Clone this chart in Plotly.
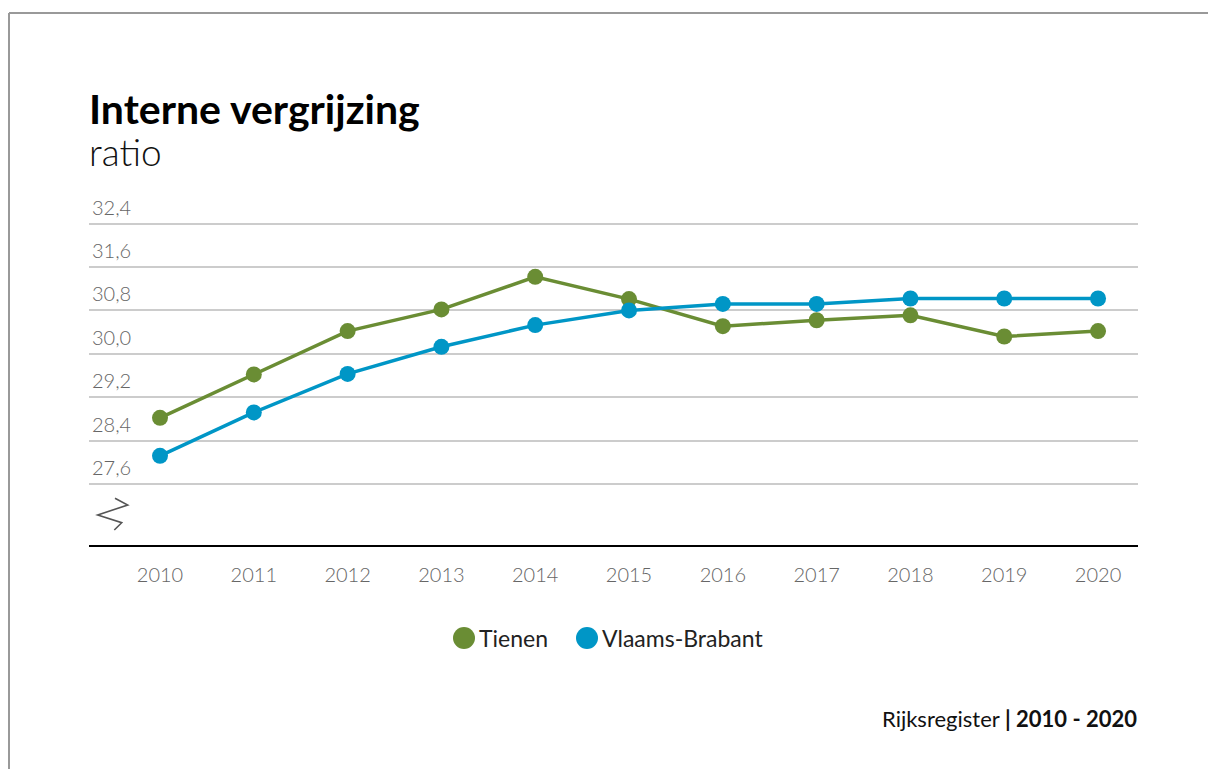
import plotly.graph_objects as go

years = [2010, 2011, 2012, 2013, 2014, 2015, 2016, 2017, 2018, 2019, 2020]
tienen = [28.82, 29.62, 30.42, 30.82, 31.42, 31.01, 30.51, 30.62, 30.71, 30.32, 30.42]
vlaams_brabant = [28.12, 28.92, 29.63, 30.13, 30.53, 30.80, 30.92, 30.92, 31.02, 31.02, 31.02]
series_names = ["Tienen", "Vlaams-Brabant"]
y_ticks = [27.6, 28.4, 29.2, 30.0, 30.8, 31.6, 32.4]
y_tick_labels = ["27,6", "28,4", "29,2", "30,0", "30,8", "31,6", "32,4"]
title_text = "Interne vergrijzing"
subtitle_text = "ratio"

GREEN = "#6a8d34"
BLUE = "#0096c6"
FONT = "Lato"

W, H = 1208, 769
ML, MR, MT, MB = 89, 70, 190, 224
PW, PH = W - ML - MR, H - MT - MB
# vertical scale: 27.6 sits at pixel 484, 54.23 px per unit
Y_REF, Y_REF_PX, PPU = 27.6, 484.0, 54.23
y_range = [Y_REF - (H - MB - Y_REF_PX) / PPU, Y_REF + (Y_REF_PX - MT) / PPU]


def px(x):
    return (x - ML) / PW


def py(y):
    return 1 - (y - MT) / PH


fig = go.Figure()
for name, vals, col in [(series_names[0], tienen, GREEN), (series_names[1], vlaams_brabant, BLUE)]:
    fig.add_trace(go.Scatter(
        x=years, y=vals, name=name, mode="lines+markers",
        line=dict(color=col, width=3.5),
        marker=dict(color=col, size=16),
        showlegend=False,
    ))

shapes = []
# frame (top and left edges)
shapes.append(dict(type="line", xref="paper", yref="paper", x0=px(9), x1=px(1300), y0=py(13), y1=py(13),
                   line=dict(color="#999999", width=2)))
shapes.append(dict(type="line", xref="paper", yref="paper", x0=px(9), x1=px(9), y0=py(13), y1=py(900),
                   line=dict(color="#999999", width=2)))
# axis break symbol
pts = [(115, 498.3), (127.7, 505), (97.7, 515), (121.7, 522.7), (114.3, 530)]
path = "M " + " L ".join(f"{px(a):.5f},{py(b):.5f}" for a, b in pts)
shapes.append(dict(type="path", xref="paper", yref="paper", path=path,
                   line=dict(color="#555555", width=1.6)))
# legend circles
for cx, col in [(464, GREEN), (587, BLUE)]:
    r = 11
    shapes.append(dict(type="circle", xref="paper", yref="paper",
                       x0=px(cx - r), x1=px(cx + r), y0=py(638 + r), y1=py(638 - r),
                       fillcolor=col, line=dict(width=0)))

annotations = [
    dict(text=(f"<span style='font-size:41px;color:#000000'><b>{title_text}</b></span><br>"
               f"<span style='font-size:37px;font-weight:300'>{subtitle_text}</span>"),
         xref="paper", yref="paper", x=px(87), y=py(129), align="left",
         xanchor="left", yanchor="middle", showarrow=False,
         font=dict(family=FONT, size=32, color="#111111")),
    dict(text=series_names[0], xref="paper", yref="paper", x=px(477), y=py(638),
         xanchor="left", yanchor="middle", showarrow=False,
         font=dict(family=FONT, size=23, color="#222222")),
    dict(text=series_names[1], xref="paper", yref="paper", x=px(600), y=py(638),
         xanchor="left", yanchor="middle", showarrow=False,
         font=dict(family=FONT, size=23, color="#222222")),
    dict(text="Rijksregister <b>| 2010 - 2020</b>", xref="paper", yref="paper", x=px(1139), y=py(718),
         xanchor="right", yanchor="middle", showarrow=False,
         font=dict(family=FONT, size=22, color="#111111")),
]

fig.update_layout(
    width=W, height=H,
    margin=dict(l=ML, r=MR, t=MT, b=MB),
    paper_bgcolor="white", plot_bgcolor="white",
    showlegend=False,
    shapes=shapes, annotations=annotations,
    xaxis=dict(
        range=[2009.243, 2020.426], tickvals=years, ticktext=[str(y) for y in years],
        showgrid=False, zeroline=False, showline=True, linecolor="#000000", linewidth=2,
        ticks="", ticklabelstandoff=11,
        tickfont=dict(family=FONT, size=20, color="#666666", weight=300),
    ),
    yaxis=dict(
        range=y_range, tickvals=y_ticks, ticktext=y_tick_labels,
        showgrid=True, gridcolor="#cccccc", gridwidth=1.6, zeroline=False, showline=False,
        ticks="", ticklabelposition="inside top", ticklabelshift=-2,
        tickfont=dict(family=FONT, size=20, color="#666666", weight=300),
    ),
)

fig.write_html("out.html", post_script="document.body.style.margin='0';",
               config={"displayModeBar": False})
